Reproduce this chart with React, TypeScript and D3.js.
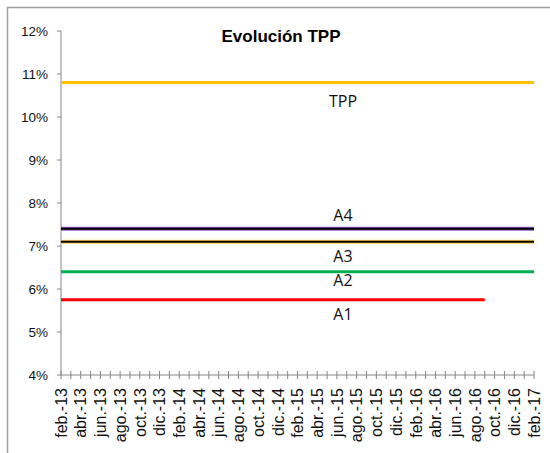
import * as d3 from "d3";
import { useEffect, useRef } from "react";

// months from feb-13 to feb-17, labels every two months
const xLabels = [
  "feb.-13", "abr.-13", "jun.-13", "ago.-13", "oct.-13", "dic.-13",
  "feb.-14", "abr.-14", "jun.-14", "ago.-14", "oct.-14", "dic.-14",
  "feb.-15", "abr.-15", "jun.-15", "ago.-15", "oct.-15", "dic.-15",
  "feb.-16", "abr.-16", "jun.-16", "ago.-16", "oct.-16", "dic.-16",
  "feb.-17",
];
const monthCount = 48;

const yTicks = [0.04, 0.05, 0.06, 0.07, 0.08, 0.09, 0.1, 0.11, 0.12];

// series: name, value, start month index, end month index
const seriesNames = ["TPP", "A4", "A3", "A2", "A1"];
const seriesValues = [0.108, 0.074, 0.071, 0.064, 0.0575];
const seriesStart = [0, 0, 0, 0, 0];
const seriesEnd = [48, 48, 48, 48, 43];
const seriesOuter = ["#FFC000", "#8E5CC4", "#FFD04A", "#00B050", "#FF0000"];
const seriesInner = [null, "#000000", "#000000", null, null];
// label offsets (px relative to line, in vertical direction)
const labelDy = [24, -8, 20, 14, 20];

const App = () => {
  const svgRef = useRef<SVGSVGElement>(null);

  useEffect(() => {
    const width = 550;
    const height = 453;
    const svg = d3.select(svgRef.current);
    svg.selectAll("*").remove();

    const x = d3.scaleLinear().domain([0, monthCount]).range([61, 534]);
    const y = d3.scaleLinear().domain([0.04, 0.12]).range([375, 31]);

    // chart frame
    svg
      .append("rect")
      .attr("x", 7.5)
      .attr("y", 7.5)
      .attr("width", 600)
      .attr("height", 500)
      .attr("fill", "white")
      .attr("stroke", "#A0A0A0")
      .attr("stroke-width", 1.5);

    // title
    svg
      .append("text")
      .attr("x", 281)
      .attr("y", 42)
      .attr("text-anchor", "middle")
      .style("font", "bold 17px 'Liberation Sans', Arial, sans-serif")
      .text("Evolución TPP");

    // y axis
    const yAxis = svg.append("g").attr("transform", `translate(${x(0)},0)`);
    yAxis
      .append("line")
      .attr("x1", 0)
      .attr("x2", 0)
      .attr("y1", y(0.12))
      .attr("y2", y(0.04))
      .attr("stroke", "#868686");
    yAxis
      .selectAll("line.tick")
      .data(yTicks)
      .join("line")
      .attr("class", "tick")
      .attr("x1", -4)
      .attr("x2", 0)
      .attr("y1", (d) => y(d))
      .attr("y2", (d) => y(d))
      .attr("stroke", "#868686");
    yAxis
      .selectAll("text")
      .data(yTicks)
      .join("text")
      .attr("x", -13)
      .attr("y", (d) => y(d))
      .attr("dy", "0.35em")
      .attr("text-anchor", "end")
      .style("font", "13.5px 'Liberation Sans', Arial, sans-serif")
      .attr("fill", "#111")
      .text((d) => d3.format(".0%")(d));

    // x axis
    const xAxis = svg.append("g").attr("transform", `translate(0,${y(0.04)})`);
    xAxis
      .append("line")
      .attr("x1", x(0))
      .attr("x2", x(monthCount))
      .attr("stroke", "#868686");
    xAxis
      .selectAll("line.tick")
      .data(d3.range(monthCount + 1))
      .join("line")
      .attr("class", "tick")
      .attr("x1", (d) => x(d))
      .attr("x2", (d) => x(d))
      .attr("y1", -4)
      .attr("y2", 4)
      .attr("stroke", "#868686");
    xAxis
      .selectAll("text")
      .data(xLabels)
      .join("text")
      .attr("transform", (d, i) => `translate(${x(i * 2)},13) rotate(-90)`)
      .attr("dy", "0.36em")
      .attr("text-anchor", "end")
      .style("font", "16px 'Liberation Sans', Arial, sans-serif")
      .attr("fill", "#111")
      .text((d) => d);

    // series lines
    const line = d3
      .line<[number, number]>()
      .x((d) => x(d[0]))
      .y((d) => y(d[1]));

    seriesNames.forEach((name, i) => {
      const pts: [number, number][] = [
        [seriesStart[i], seriesValues[i]],
        [seriesEnd[i], seriesValues[i]],
      ];
      svg
        .append("path")
        .attr("d", line(pts))
        .attr("fill", "none")
        .attr("stroke", seriesOuter[i])
        .attr("stroke-width", seriesInner[i] ? 4 : 3);
      if (seriesInner[i]) {
        svg
          .append("path")
          .attr("d", line(pts))
          .attr("fill", "none")
          .attr("stroke", seriesInner[i])
          .attr("stroke-width", 2);
      }
      svg
        .append("text")
        .attr("x", 343)
        .attr("y", y(seriesValues[i]) + labelDy[i])
        .attr("text-anchor", "middle")
        .style("font", "16px 'Open Sans', sans-serif")
        .attr("fill", "#111")
        .text(name);
    });

    svg.attr("width", width).attr("height", height);
  }, []);

  return (
    <svg
      ref={svgRef}
      style={{ position: "fixed", left: 0, top: 0, display: "block" }}
    ></svg>
  );
};

export default App;
